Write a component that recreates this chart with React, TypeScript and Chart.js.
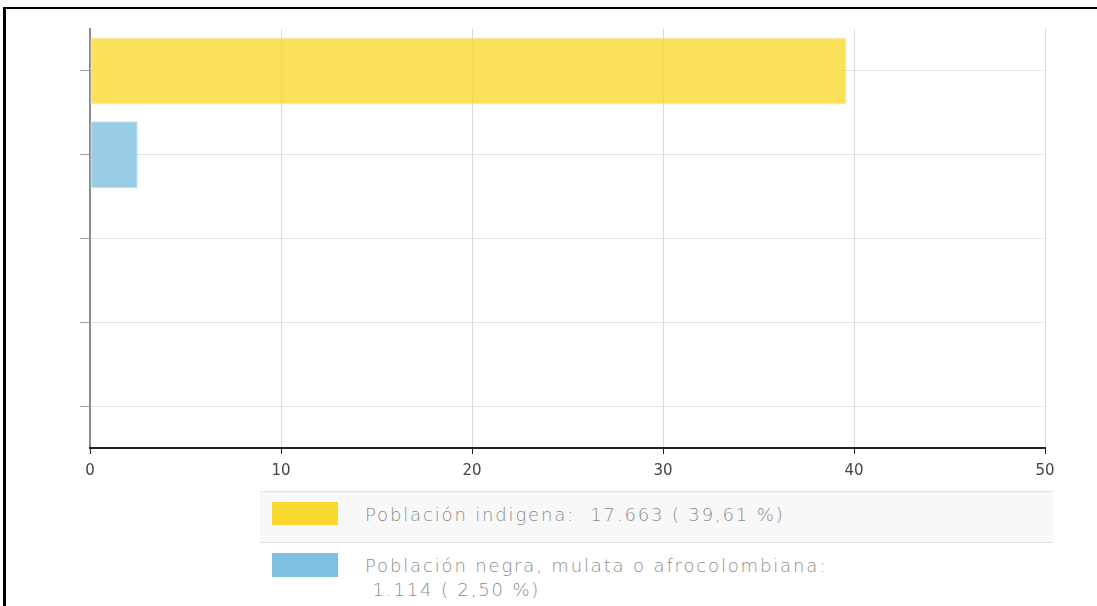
import React, { useEffect, useRef } from "react";
import { Chart, registerables } from "chart.js";

Chart.register(...registerables);

const categories = [
  "Población indigena",
  "Población negra, mulata o afrocolombiana",
  "",
  "",
  "",
];
const percentValues: (number | null)[] = [39.61, 2.5, null, null, null];
const counts = ["17.663", "1.114"];
const percentLabels = ["39,61", "2,50"];
const baseColors = ["#F9D92F", "#7FC0E0"];
const barColors = ["rgba(249,217,47,0.8)", "rgba(127,192,224,0.8)"];
const barBorders = ["rgba(225,225,215,0.9)", "rgba(190,225,242,0.9)"];
const xTicks = [0, 10, 20, 30, 40, 50];

export default function App() {
  const canvasRef = useRef<HTMLCanvasElement | null>(null);

  useEffect(() => {
    if (!canvasRef.current) return;
    const chart = new Chart(canvasRef.current, {
      type: "bar",
      data: {
        labels: categories,
        datasets: [
          {
            data: percentValues,
            backgroundColor: barColors,
            borderColor: barBorders,
            borderWidth: 1,
            borderSkipped: false,
            barPercentage: 1,
            categoryPercentage: 0.8,
          },
        ],
      },
      options: {
        indexAxis: "y",
        responsive: false,
        animation: false,
        devicePixelRatio: 1,
        layout: { padding: { left: 0, right: 52, top: 29, bottom: 0 } },
        plugins: {
          legend: { display: false },
          tooltip: { enabled: false },
          title: { display: false },
        },
        scales: {
          y: {
            type: "category",
            ticks: { display: false },
            grid: {
              offset: false,
              color: "#e6e6e6",
              lineWidth: 1,
              tickLength: 10,
              tickColor: "#a0a0a0",
            },
            border: { color: "#8c8c8c", width: 2 },
            afterFit: (s: any) => {
              s.width = 90;
            },
          },
          x: {
            type: "linear",
            min: xTicks[0],
            max: xTicks[xTicks.length - 1],
            afterBuildTicks: (s: any) => {
              s.ticks = xTicks.map((v) => ({ value: v }));
            },
            ticks: {
              color: "#444444",
              padding: 8,
              font: { family: "DejaVu Sans", size: 15 },
            },
            grid: {
              color: "#d9d9d9",
              lineWidth: 1,
              tickLength: 6,
              tickColor: "#222222",
            },
            border: { color: "#222222", width: 2 },
            afterFit: (s: any) => {
              s.height = 32;
            },
          },
        },
      },
    } as any);
    return () => chart.destroy();
  }, []);

  const legendText = {
    fontFamily: "'DejaVu Sans', sans-serif",
    fontSize: 18,
    fontWeight: 300,
    color: "#8c8c8c",
    letterSpacing: "1.85px",
  } as React.CSSProperties;

  return (
    <div
      style={{
        position: "fixed",
        left: 0,
        top: 0,
        width: 1097,
        height: 606,
        overflow: "hidden",
        background: "#ffffff",
      }}
    >
      <canvas
        ref={canvasRef}
        width={1097}
        height={480}
        style={{ position: "absolute", left: 0, top: 0, width: 1097, height: 480 }}
      />
      <div style={{ position: "absolute", left: 3, top: 7, right: 0, height: 2, background: "#000" }} />
      <div style={{ position: "absolute", left: 3, top: 7, width: 3, bottom: 0, background: "#000" }} />
      <div style={{ position: "absolute", left: 260, top: 491, width: 793 }}>
        <div
          style={{
            position: "relative",
            height: 50,
            background: "#f8f8f8",
            borderTop: "1px solid #e2e2e2",
            borderBottom: "1px solid #e2e2e2",
          }}
        >
          <div style={{ position: "absolute", left: 12, top: 10, width: 66, height: 23, background: baseColors[0] }} />
          <div style={{ ...legendText, position: "absolute", left: 105, top: 11, lineHeight: "24px", whiteSpace: "pre" }}>
            {`${categories[0]}:  ${counts[0]} ( ${percentLabels[0]} %)`}
          </div>
        </div>
        <div style={{ position: "relative", height: 70 }}>
          <div style={{ position: "absolute", left: 12, top: 10, width: 66, height: 24, background: baseColors[1] }} />
          <div style={{ ...legendText, position: "absolute", left: 105, top: 11, lineHeight: "24px", whiteSpace: "pre" }}>
            {`${categories[1]}:\n ${counts[1]} ( ${percentLabels[1]} %)`}
          </div>
        </div>
      </div>
    </div>
  );
}
